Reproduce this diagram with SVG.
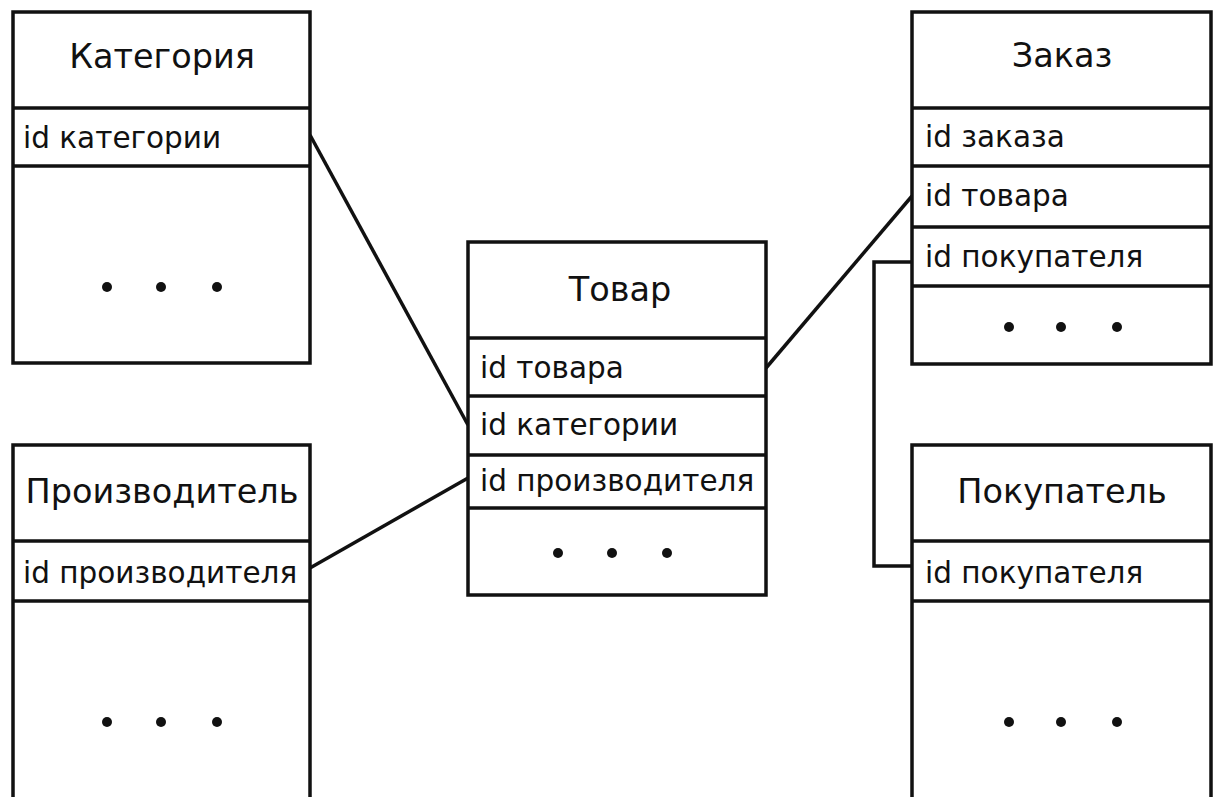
<svg xmlns="http://www.w3.org/2000/svg" width="1220" height="797" viewBox="0 0 1220 797">
<style>
.box{fill:#fff;stroke:#111;stroke-width:3.5}
.div{stroke:#111;stroke-width:3.5}
.title{font-family:"DejaVu Sans",sans-serif;font-size:33.5px;fill:#111;text-anchor:middle}
.row{font-family:"DejaVu Sans",sans-serif;font-size:29.5px;fill:#111}
.dot{fill:#111}
.conn{fill:none;stroke:#111;stroke-width:3.5}
</style>
<rect width="1220" height="797" fill="#fff"/>
<g id="connectors">
<line class="conn" x1="310" y1="135" x2="468" y2="425"/>
<line class="conn" x1="310" y1="568" x2="468" y2="478"/>
<line class="conn" x1="766" y1="368" x2="912" y2="196"/>
<polyline class="conn" points="912,262 874,262 874,566 912,566"/>
</g>
<g id="kategoriya">
<rect class="box" x="13" y="12" width="297" height="351"/>
<line class="div" x1="13" y1="108" x2="310" y2="108"/>
<line class="div" x1="13" y1="166" x2="310" y2="166"/>
<text class="title" x="162" y="68">Категория</text>
<text class="row" x="23" y="148">id категории</text>
<circle class="dot" cx="107" cy="287" r="5"/><circle class="dot" cx="161" cy="287" r="5"/><circle class="dot" cx="217" cy="287" r="5"/>
</g>
<g id="proizvoditel">
<rect class="box" x="13" y="445" width="297" height="370"/>
<line class="div" x1="13" y1="541" x2="310" y2="541"/>
<line class="div" x1="13" y1="601" x2="310" y2="601"/>
<text class="title" x="162" y="503">Производитель</text>
<text class="row" x="23" y="583">id производителя</text>
<circle class="dot" cx="107" cy="722" r="5"/><circle class="dot" cx="161" cy="722" r="5"/><circle class="dot" cx="217" cy="722" r="5"/>
</g>
<g id="tovar">
<rect class="box" x="468" y="242" width="298" height="353"/>
<line class="div" x1="468" y1="338" x2="766" y2="338"/>
<line class="div" x1="468" y1="396" x2="766" y2="396"/>
<line class="div" x1="468" y1="455" x2="766" y2="455"/>
<line class="div" x1="468" y1="508" x2="766" y2="508"/>
<text class="title" x="620" y="301">Товар</text>
<text class="row" x="480" y="378">id товара</text>
<text class="row" x="480" y="435">id категории</text>
<text class="row" x="480" y="491">id производителя</text>
<circle class="dot" cx="558" cy="553" r="5"/><circle class="dot" cx="612" cy="553" r="5"/><circle class="dot" cx="667" cy="553" r="5"/>
</g>
<g id="zakaz">
<rect class="box" x="912" y="12" width="299" height="352"/>
<line class="div" x1="912" y1="108" x2="1211" y2="108"/>
<line class="div" x1="912" y1="166" x2="1211" y2="166"/>
<line class="div" x1="912" y1="227" x2="1211" y2="227"/>
<line class="div" x1="912" y1="286" x2="1211" y2="286"/>
<text class="title" x="1062" y="67">Заказ</text>
<text class="row" x="925" y="147">id заказа</text>
<text class="row" x="925" y="206">id товара</text>
<text class="row" x="925" y="267">id покупателя</text>
<circle class="dot" cx="1009" cy="327" r="5"/><circle class="dot" cx="1061" cy="327" r="5"/><circle class="dot" cx="1117" cy="327" r="5"/>
</g>
<g id="pokupatel">
<rect class="box" x="912" y="445" width="299" height="370"/>
<line class="div" x1="912" y1="541" x2="1211" y2="541"/>
<line class="div" x1="912" y1="601" x2="1211" y2="601"/>
<text class="title" x="1062" y="503">Покупатель</text>
<text class="row" x="925" y="583">id покупателя</text>
<circle class="dot" cx="1009" cy="722" r="5"/><circle class="dot" cx="1061" cy="722" r="5"/><circle class="dot" cx="1117" cy="722" r="5"/>
</g>
</svg>
